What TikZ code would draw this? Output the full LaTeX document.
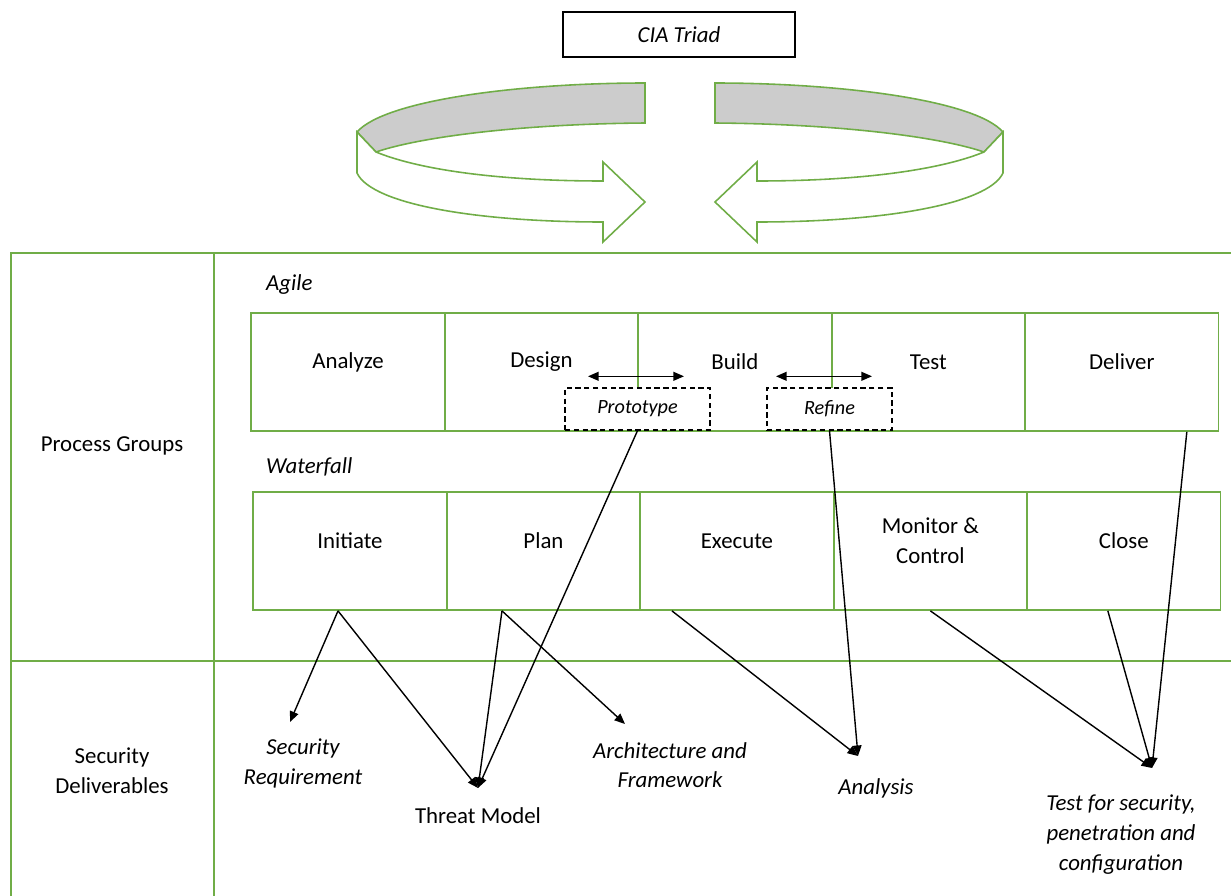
\documentclass[tikz,border=0pt]{standalone}
\usepackage{fontspec}
\setmainfont{Carlito}
\usetikzlibrary{positioning,arrows.meta}
\definecolor{cgreen}{HTML}{70AD47}
\definecolor{cgray}{HTML}{CCCCCC}

\begin{document}
\begin{tikzpicture}[x=0.02cm, y=-0.02cm, node distance=3.87cm, on grid,
    every node/.style={font=\fontsize{13}{17}\selectfont},
    cell/.style={draw=cgreen, line width=1pt, minimum width=3.87cm, minimum height=2.36cm, inner sep=0pt},
    txt/.style={align=center},
    deliv/.style={align=center, font=\fontsize{13}{17}\selectfont\itshape},
    loopbox/.style={draw, fill=white, line width=0.8pt, dash pattern=on 3pt off 2pt, minimum height=0.84cm, font=\fontsize{11.5}{14}\selectfont\itshape},
    flow/.style={line width=0.8pt, -{Triangle[length=6pt,width=5pt]}},
    both/.style={line width=0.8pt, {Triangle[length=6pt,width=5pt]}-{Triangle[length=6pt,width=5pt]}},
    rim/.style={draw=cgreen, line width=0.9pt},
    ciahalf/.pic={
        \path[rim, fill=cgray] (357,132) .. controls (385,100) and (520,83) .. (645,83) -- (645,123)
            .. controls (520,124) and (420,137) .. (376,152) -- cycle;
        \path[rim, fill=white] (357,132) -- (357,173) .. controls (372,205) and (480,222) .. (603,222)
            -- (603,242) -- (645,202) -- (603,162) -- (603,181)
            .. controls (500,181) and (420,170) .. (376,152) -- cycle;
    }]
    \useasboundingbox (0,0) rectangle (1231,896);

    % CIA triad and the turning ribbon
    \node[draw, line width=0.8pt, minimum width=4.64cm, minimum height=0.9cm, font=\fontsize{13}{17}\selectfont\itshape] (cia) at (679,34.5) {CIA Triad};
    \pic at (0,0) {ciahalf};
    \pic[xscale=-1] at (1360,0) {ciahalf};

    % table frame
    \draw[cgreen, line width=1pt] (1240,253) -- (11,253) -- (11,900);
    \draw[cgreen, line width=1pt] (214,253) -- (214,900);
    \draw[cgreen, line width=1pt] (11,661) -- (1240,661);
    \node (pg) at (112,446) {Process Groups};
    \node[txt] (sd) at (112,771) {Security\\Deliverables};

    % agile
    \node[anchor=west, font=\fontsize{13}{17}\selectfont\itshape] (agile) at (260,285) {Agile};
    \node[cell] (an) at (348,372) {};
    \node[cell] (de) [right=of an] {};
    \node[cell] (bu) [right=of de] {};
    \node[cell] (te) [right=of bu] {};
    \node[cell] (dl) [right=of te] {};
    \node[txt] (tan) at ([yshift=0.2cm]an.center) {Analyze};
    \node[txt] (tde) at ([yshift=0.2cm]de.center) {Design};
    \node[txt] (tbu) at ([yshift=0.2cm]bu.center) {Build};
    \node[txt] (tte) at ([yshift=0.2cm]te.center) {Test};
    \node[txt] (tdl) at ([yshift=0.2cm]dl.center) {Deliver};

    \node[loopbox, minimum width=2.9cm] (proto) at (637.5,409) {Prototype};
    \node[loopbox, minimum width=2.5cm] (refine) at (829.5,409) {Refine};
    \draw[both] ([xshift=-0.99cm, yshift=0.22cm]proto.north) -- ([xshift=0.93cm, yshift=0.22cm]proto.north);
    \draw[both] ([xshift=-1.07cm, yshift=0.22cm]refine.north) -- ([xshift=0.85cm, yshift=0.22cm]refine.north);

    % waterfall
    \node[anchor=west, font=\fontsize{13}{17}\selectfont\itshape] (water) at (260,467) {Waterfall};
    \node[cell] (ini) at (350,551) {};
    \node[cell] (plan) [right=of ini] {};
    \node[cell] (exe) [right=of plan] {};
    \node[cell] (mon) [right=of exe] {};
    \node[cell] (close) [right=of mon] {};
    \node[txt] (tini) at ([yshift=0.2cm]ini.center) {Initiate};
    \node[txt] (tplan) at ([yshift=0.2cm]plan.center) {Plan};
    \node[txt] (texe) at ([yshift=0.2cm]exe.center) {Execute};
    \node[txt] (tmon) at ([yshift=0.2cm]mon.center) {Monitor \&\\Control};
    \node[txt] (tclose) at ([yshift=0.2cm]close.center) {Close};

    % deliverables
    \coordinate (srtip) at (290,722);
    \coordinate (tmtip) at (478,788);
    \coordinate (aftip) at (625,724);
    \coordinate (antip) at (858,756);
    \coordinate (tftip) at (1152,768);
    \node[deliv, below=0.21cm of srtip, xshift=0.26cm] (sr) {Security\\Requirement};
    \node[txt, below=0.26cm of tmtip] (tm) {Threat Model};
    \node[deliv, below=0.24cm of aftip, xshift=0.9cm] (af) {Architecture and\\Framework};
    \node[deliv, below=0.32cm of antip, xshift=0.36cm] (ana) {Analysis};
    \node[deliv, below=0.42cm of tftip, xshift=-0.62cm] (tf) {Test for security,\\penetration and\\configuration};

    \draw[flow] ([xshift=-0.24cm]ini.south) -- (srtip);
    \draw[flow] ([xshift=-0.24cm]ini.south) -- (tmtip);
    \draw[flow] ([xshift=-0.83cm]plan.south) -- (tmtip);
    \draw[flow] ([xshift=-0.83cm]plan.south) -- (aftip);
    \draw[flow] (proto.south) -- (tmtip);
    \draw[flow] ([xshift=-1.3cm]exe.south) -- (antip);
    \draw[flow] (refine.south) -- (antip);
    \draw[flow] (mon.south) -- (tftip);
    \draw[flow] ([xshift=-0.32cm]close.south) -- (tftip);
    \draw[flow] ([xshift=1.3cm]dl.south) -- (tftip);
\end{tikzpicture}
\end{document}
